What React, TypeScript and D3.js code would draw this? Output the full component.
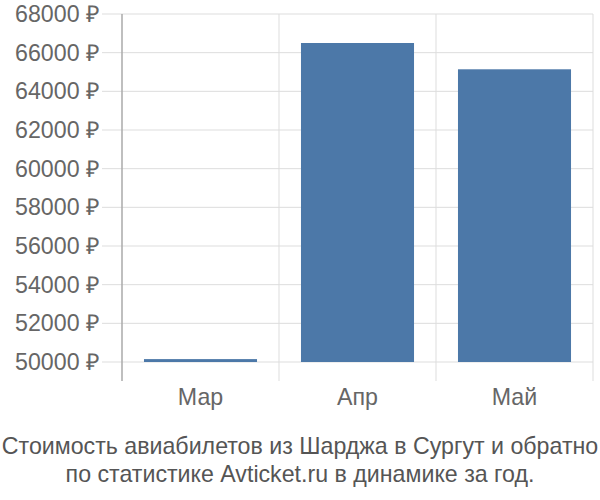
import React from 'react';
import * as d3 from 'd3';

const months = ['Мар', 'Апр', 'Май'];
const prices = [50150, 66500, 65140];
const yTicks = [50000, 52000, 54000, 56000, 58000, 60000, 62000, 64000, 66000, 68000];
const titleLines = [
  'Стоимость авиабилетов из Шарджа в Сургут и обратно',
  'по статистике Avticket.ru в динамике за год.',
];

const App = () => {
  const width = 600;
  const height = 500;
  const left = 122;
  const right = 593;
  const top = 14;
  const bottom = 362;

  const x = d3.scaleBand().domain(months).range([left, right]);
  const xBar = d3.scaleBand().domain(months).range([left, right]).paddingInner(0.28).paddingOuter(0.14);
  const y = d3.scaleLinear().domain([50000, 68000]).range([bottom, top]);

  const font = '"Liberation Sans", Arial, sans-serif';
  const fs = 23.2;

  return (
    <svg width={width} height={height} style={{ position: 'absolute', left: 0, top: 0 }}>
      {/* horizontal grid */}
      {yTicks.map(t => (
        <g key={t}>
          <line x1={102} x2={right} y1={y(t)} y2={y(t)} stroke="#dddddd" strokeWidth={1} />
          <text x={100} y={y(t)} dy="0.35em" textAnchor="end" fontFamily={font} fontSize={fs} fill="#666">
            {t} ₽
          </text>
        </g>
      ))}
      {/* vertical grid */}
      {months.map(m => (
        <line key={m} x1={x(m)! + x.bandwidth()} x2={x(m)! + x.bandwidth()} y1={top} y2={381}
          stroke="#dddddd" strokeWidth={1} />
      ))}
      {/* bars */}
      {months.map((m, i) => (
        <rect key={m} x={xBar(m)} width={xBar.bandwidth()} y={y(prices[i])}
          height={bottom - y(prices[i])} fill="#4c78a8" />
      ))}
      {/* y axis */}
      <line x1={left} x2={left} y1={top} y2={381} stroke="#aaaaaa" strokeWidth={1.5} />
      {/* x labels */}
      {months.map(m => (
        <text key={m} x={x(m)! + x.bandwidth() / 2} y={405} textAnchor="middle" fontFamily={font}
          fontSize={fs} fill="#666">
          {m}
        </text>
      ))}
      {titleLines.map((l, i) => (
        <text key={i} x={300} y={454 + i * 28} textAnchor="middle" fontFamily={font} fontSize={fs} fill="#555">
          {l}
        </text>
      ))}
    </svg>
  );
};

export default App;
